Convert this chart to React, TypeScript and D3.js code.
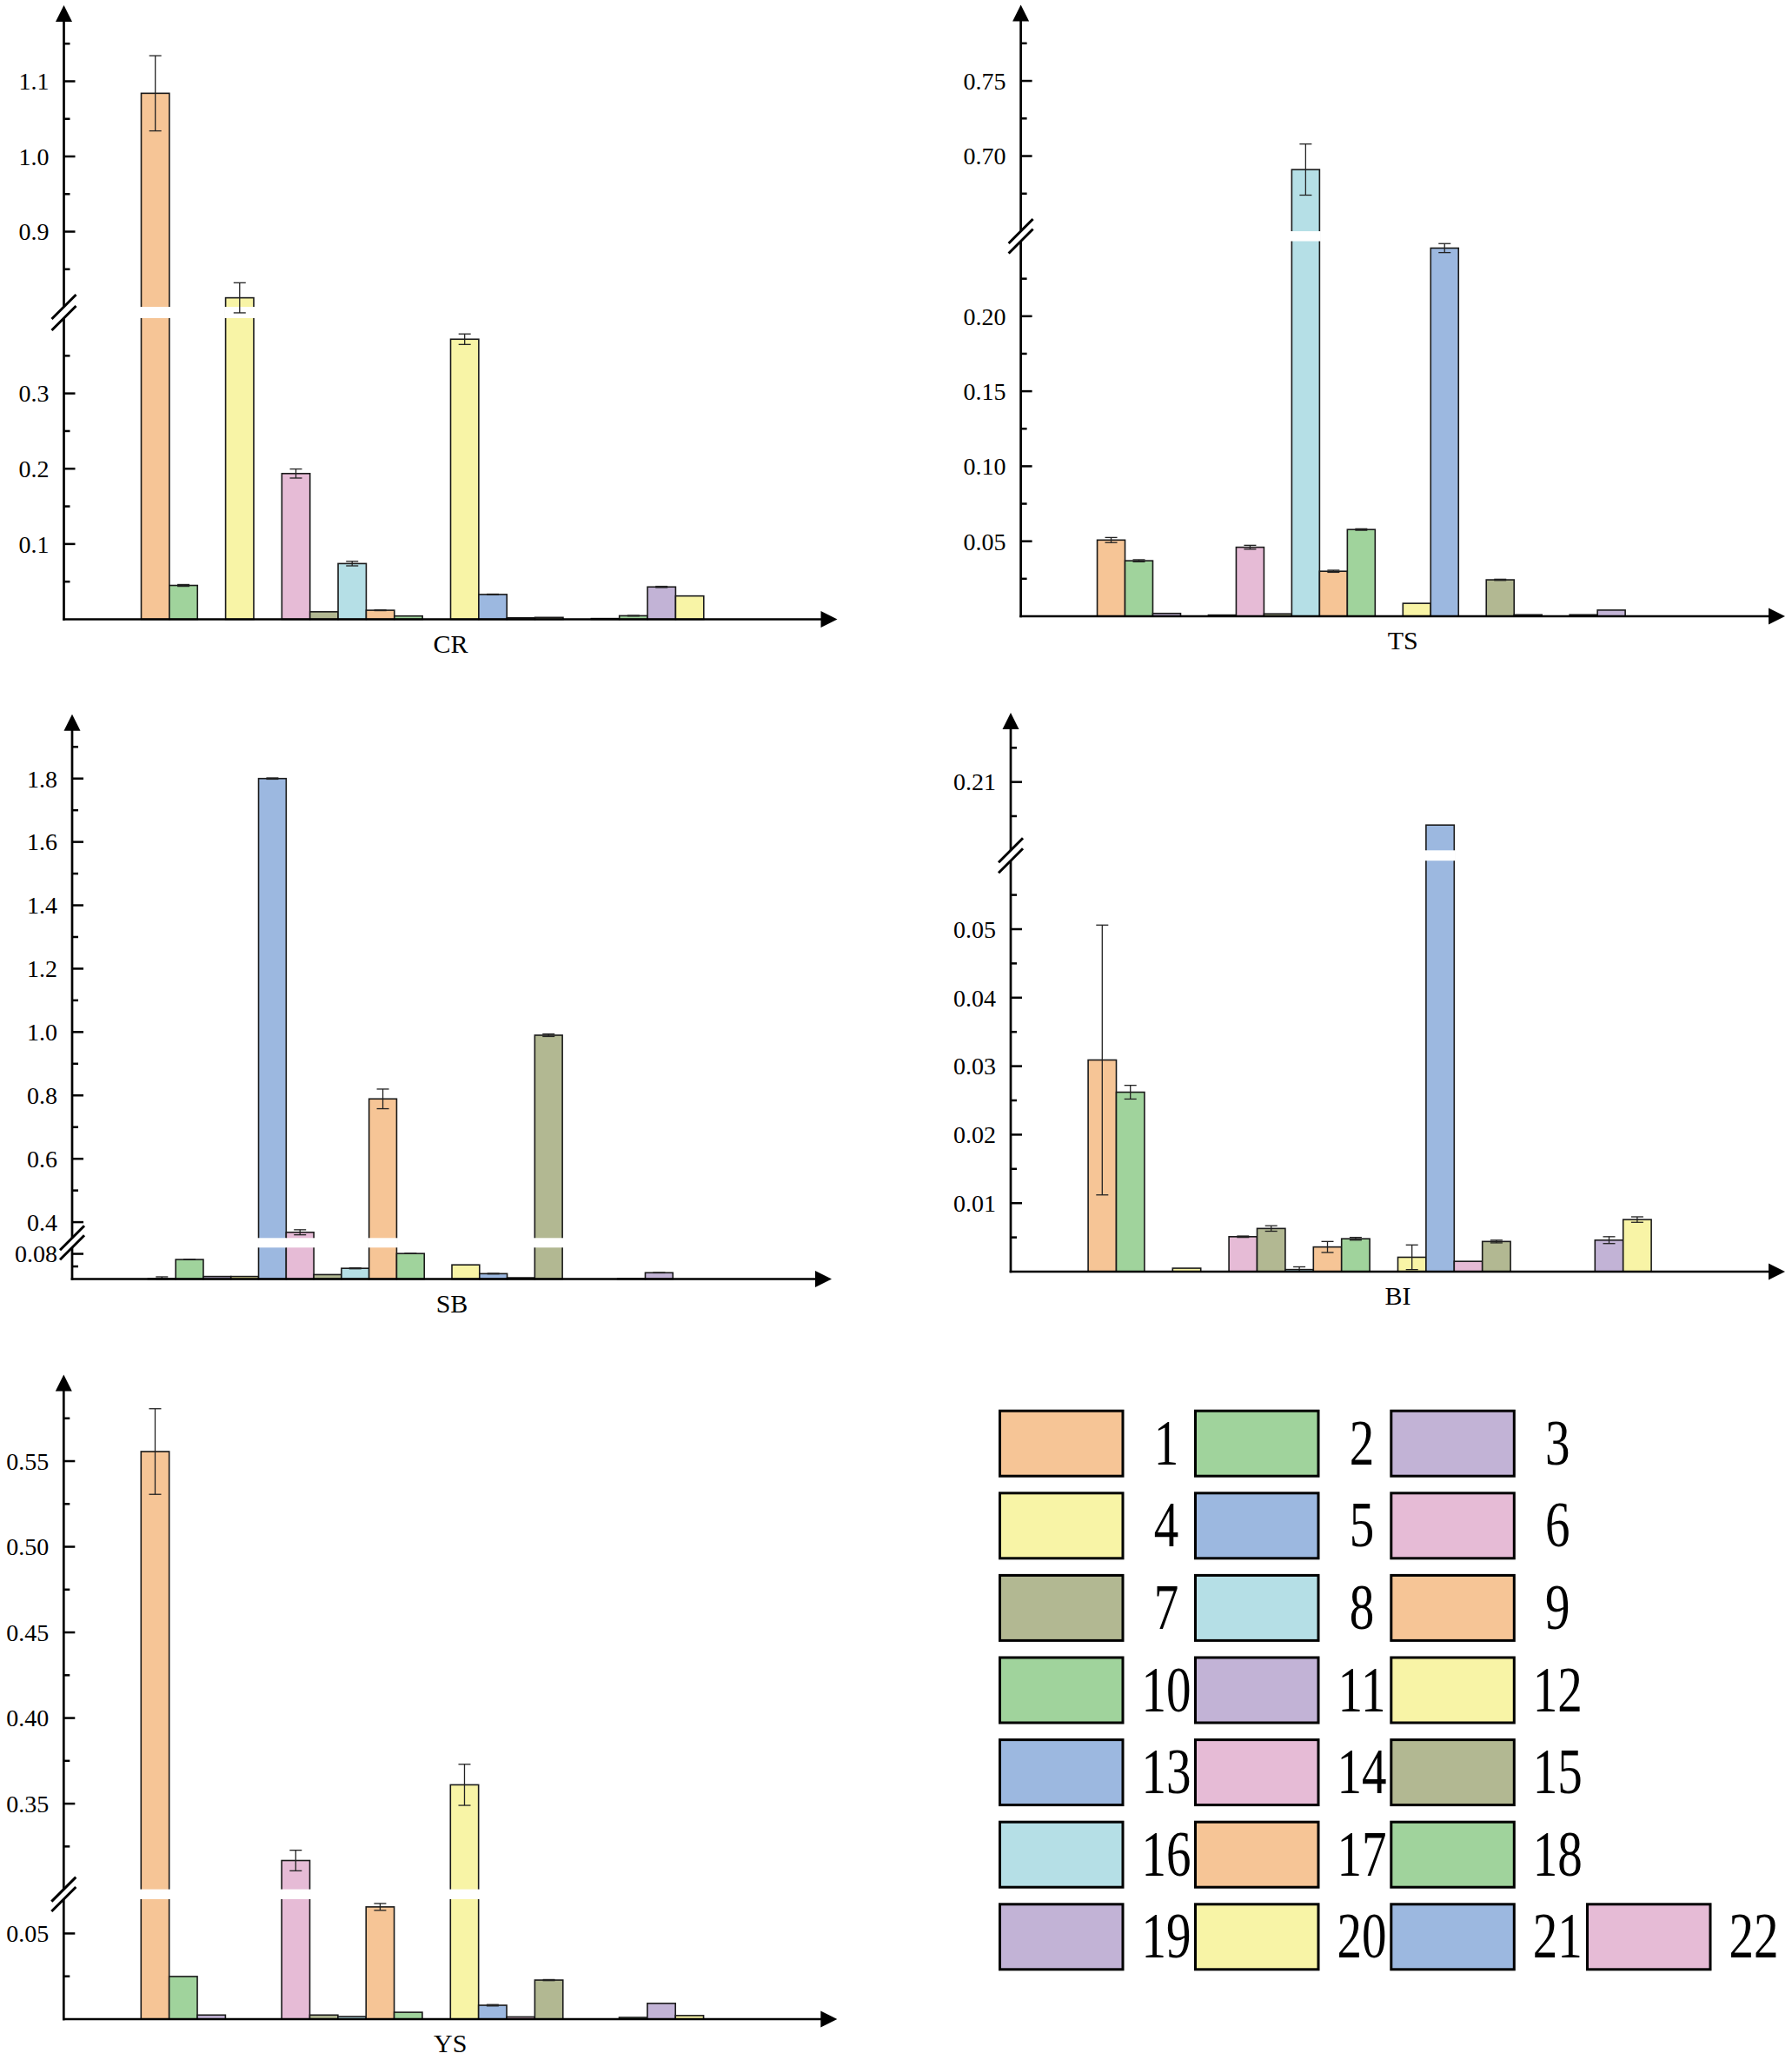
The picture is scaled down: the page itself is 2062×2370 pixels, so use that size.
import React from 'react';
import * as d3 from 'd3';

// categories 1..22 share one legend; colours cycle every 8 bars
const categories = ['1', '2', '3', '4', '5', '6', '7', '8', '9', '10', '11', '12', '13', '14', '15', '16', '17', '18', '19', '20', '21', '22'];
const palette = ['#F6C596', '#A0D39C', '#C2B3D6', '#F8F4A6', '#9CB8E0', '#E6BBD6', '#B2B892', '#B5DFE6'];

const crValues = [1.084, 0.045, 0, 0.812, 0, 0.1936, 0.010, 0.074, 0.012, 0.0044, 0, 0.372, 0.033, 0.002, 0.0025, 0, 0.001, 0.0047, 0.043, 0.031, 0, 0];
const crErrors = [0.05, 0.0012, 0, 0.02, 0, 0.006, 0, 0.003, 0.0005, 0, 0, 0.007, 0.0005, 0, 0, 0, 0, 0.0004, 0.0008, 0, 0, 0];

const tsValues = [0.0508, 0.037, 0.0019, 0, 0.0008, 0.046, 0.0016, 0.691, 0.030, 0.0578, 0, 0.0086, 0.2454, 0, 0.0243, 0.001, 0, 0.001, 0.0041, 0, 0, 0];
const tsErrors = [0.0017, 0.0007, 0, 0, 0, 0.0013, 0, 0.017, 0.0007, 0.0005, 0, 0, 0.003, 0, 0.0004, 0, 0, 0, 0, 0, 0, 0];

const sbValues = [0.001, 0.062, 0.008, 0.008, 1.80, 0.368, 0.014, 0.034, 0.789, 0.081, 0, 0.045, 0.017, 0.004, 0.990, 0, 0, 0.001, 0.020, 0, 0, 0];
const sbErrors = [0.006, 0.0008, 0, 0, 0.002, 0.008, 0, 0.0015, 0.031, 0.0005, 0, 0, 0.001, 0, 0.004, 0, 0, 0, 0.0005, 0, 0, 0];

const biValues = [0.0309, 0.0262, 0, 0.0005, 0, 0.0051, 0.0063, 0.0003, 0.0036, 0.0048, 0, 0.0021, 0.2037, 0.0015, 0.0044, 0, 0, 0, 0.0046, 0.0076, 0, 0];
const biErrors = [0.0197, 0.001, 0, 0, 0, 0.0001, 0.0004, 0.0004, 0.0008, 0.0002, 0, 0.0018, 0, 0, 0.0002, 0, 0, 0, 0.0005, 0.0004, 0, 0];

const ysValues = [0.5556, 0.0249, 0.0024, 0, 0, 0.3168, 0.0024, 0.0015, 0.0655, 0.004, 0, 0.361, 0.0081, 0.0013, 0.0228, 0, 0, 0.001, 0.0092, 0.0021, 0, 0];
const ysErrors = [0.025, 0, 0, 0, 0, 0.006, 0, 0, 0.002, 0, 0, 0.012, 0.0004, 0, 0.0003, 0, 0, 0, 0, 0, 0, 0];

// broken y axes: lower and upper segments
const crLowerTicks = [0.1, 0.2, 0.3];
const crLowerMinor = [0.05, 0.15, 0.25, 0.35];
const crUpperTicks = [0.9, 1.0, 1.1];
const crUpperMinor = [0.85, 0.95, 1.05, 1.15];

const tsLowerTicks = [0.05, 0.1, 0.15, 0.2];
const tsLowerMinor = [0.025, 0.075, 0.125, 0.175, 0.225];
const tsUpperTicks = [0.7, 0.75];
const tsUpperMinor = [0.675, 0.725, 0.775];

const sbLowerTicks = [0.08];
const sbLowerMinor = [0.04];
const sbUpperTicks = [0.4, 0.6, 0.8, 1.0, 1.2, 1.4, 1.6, 1.8];
const sbUpperMinor = [0.5, 0.7, 0.9, 1.1, 1.3, 1.5, 1.7, 1.9];

const biLowerTicks = [0.01, 0.02, 0.03, 0.04, 0.05];
const biLowerMinor = [0.005, 0.015, 0.025, 0.035, 0.045, 0.055];
const biUpperTicks = [0.21];
const biUpperMinor = [0.205, 0.215];

const ysLowerTicks = [0.05];
const ysLowerMinor = [0.025];
const ysUpperTicks = [0.35, 0.4, 0.45, 0.5, 0.55];
const ysUpperMinor = [0.325, 0.375, 0.425, 0.475, 0.525, 0.575];

const FONT = '"Liberation Serif", "Times New Roman", serif';

interface PanelProps {
  title: string;
  values: number[];
  errors: number[];
  axisX: number;
  axisY: number;
  len: number;
  lowerDomain: [number, number];
  lowerTop: number;
  upperDomain: [number, number];
  upperBottom: number;
  upperTop: number;
  lowerTicks: number[];
  lowerMinor: number[];
  upperTicks: number[];
  upperMinor: number[];
  lowerFmt: string;
  upperFmt: string;
}

const Panel: React.FC<PanelProps> = (p) => {
  const yLower = d3.scaleLinear().domain(p.lowerDomain).range([p.axisY, p.lowerTop]);
  const yUpper = d3.scaleLinear().domain(p.upperDomain).range([p.upperBottom, p.upperTop]);
  const y = (v: number) => (v <= p.lowerDomain[1] ? yLower(v) : yUpper(v));

  const x = d3.scaleBand<string>()
    .domain(categories)
    .range([p.axisX + p.len * 0.1, p.axisX + p.len * 0.9])
    .padding(0);
  const bw = x.bandwidth();

  const arrowLen = 19;
  const arrowHalf = 9.5;
  const topTip = p.upperTop - 1;
  const rightTip = p.axisX + p.len;
  const cap = 7;

  const tickLines = (vals: number[], scale: (v: number) => number, size: number) =>
    vals.map((v, i) => (
      <line key={`${size}-${i}`} x1={p.axisX} x2={p.axisX + size} y1={scale(v)} y2={scale(v)} stroke="#000" strokeWidth={2.5} />
    ));

  const tickLabels = (vals: number[], scale: (v: number) => number, fmt: string) =>
    vals.map((v, i) => (
      <text key={`l-${fmt}-${i}`} x={p.axisX - 17} y={scale(v)} dy="0.35em" textAnchor="end" fontSize={28} fontFamily={FONT} fill="#000">
        {d3.format(fmt)(v)}
      </text>
    ));

  const slash = (yy: number, k: string) => (
    <line key={k} x1={p.axisX - 14} y1={yy + 14} x2={p.axisX + 14} y2={yy - 14} stroke="#000" strokeWidth={3} />
  );

  return (
    <g>
      {/* bars */}
      {p.values.map((v, i) => {
        if (v <= 0) return null;
        const x0 = x(categories[i]) as number;
        const top = y(v);
        return (
          <g key={`b-${i}`}>
            <rect x={x0} y={top} width={bw} height={p.axisY - top} fill={palette[i % 8]} stroke="#1a1a1a" strokeWidth={1.6} />
            {v > p.lowerDomain[1] && (
              <rect x={x0 - 1.5} y={p.upperBottom} width={bw + 3} height={p.lowerTop - p.upperBottom} fill="#fff" />
            )}
          </g>
        );
      })}
      {/* error bars */}
      {p.values.map((v, i) => {
        const e = p.errors[i];
        if (v <= 0 || !e) return null;
        const cx = (x(categories[i]) as number) + bw / 2;
        const yt = y(v + e);
        const yb = y(Math.max(0, v - e));
        return (
          <g key={`e-${i}`} stroke="#222" strokeWidth={1.3}>
            <line x1={cx} x2={cx} y1={yt} y2={yb} />
            <line x1={cx - cap} x2={cx + cap} y1={yt} y2={yt} />
            <line x1={cx - cap} x2={cx + cap} y1={yb} y2={yb} />
          </g>
        );
      })}
      {/* y axis, broken */}
      <line x1={p.axisX} x2={p.axisX} y1={p.axisY + 1.3} y2={p.lowerTop} stroke="#000" strokeWidth={2.7} />
      <line x1={p.axisX} x2={p.axisX} y1={p.upperBottom} y2={topTip + arrowLen - 1} stroke="#000" strokeWidth={2.7} />
      <path d={`M${p.axisX},${topTip} L${p.axisX - arrowHalf},${topTip + arrowLen} L${p.axisX + arrowHalf},${topTip + arrowLen} Z`} fill="#000" />
      {slash(p.upperBottom, 's1')}
      {slash(p.lowerTop, 's2')}
      {tickLines(p.lowerTicks, yLower, 13)}
      {tickLines(p.lowerMinor, yLower, 7)}
      {tickLines(p.upperTicks, yUpper, 13)}
      {tickLines(p.upperMinor, yUpper, 7)}
      {tickLabels(p.lowerTicks, yLower, p.lowerFmt)}
      {tickLabels(p.upperTicks, yUpper, p.upperFmt)}
      {/* x axis */}
      <line x1={p.axisX - 1.3} x2={rightTip - arrowLen + 1} y1={p.axisY} y2={p.axisY} stroke="#000" strokeWidth={2.7} />
      <path d={`M${rightTip},${p.axisY} L${rightTip - arrowLen},${p.axisY - arrowHalf} L${rightTip - arrowLen},${p.axisY + arrowHalf} Z`} fill="#000" />
      <text x={p.axisX + p.len / 2} y={p.axisY + 38} textAnchor="middle" fontSize={30} fontFamily={FONT} fill="#000">
        {p.title}
      </text>
    </g>
  );
};

const Legend: React.FC = () => {
  const colX = [1150.5, 1375.5, 1600.8, 1826.5];
  const rowY0 = 1623.2;
  const rowStep = 94.6;
  const boxW = 141.5;
  const boxH = 75;
  const fs = 74;
  return (
    <g>
      {categories.map((c, i) => {
        const row = Math.min(Math.floor(i / 3), 6);
        const col = i - row * 3;
        const bx = colX[col];
        const by = rowY0 + row * rowStep;
        return (
          <g key={`lg-${c}`}>
            <rect x={bx} y={by} width={boxW} height={boxH} fill={palette[i % 8]} stroke="#000" strokeWidth={3} />
            {/* the legend digits are narrower than plain Times */}
            <text
              transform={`translate(${bx + boxW + 50},${by + boxH / 2 + 24}) scale(0.77,1)`}
              x={0}
              y={0}
              textAnchor="middle"
              fontSize={fs}
              fontFamily={FONT}
              fill="#000"
            >
              {c}
            </text>
          </g>
        );
      })}
    </g>
  );
};

const App: React.FC = () => {
  return (
    <svg
      width={2062}
      height={2370}
      viewBox="0 0 2062 2370"
      style={{ position: 'absolute', left: 0, top: 0, background: '#fff' }}
    >
      <rect x={0} y={0} width={2062} height={2370} fill="#fff" />
      <Panel
        title="CR" values={crValues} errors={crErrors}
        axisX={73.5} axisY={712.5} len={890}
        lowerDomain={[0, 0.4]} lowerTop={366}
        upperDomain={[0.8, 1.2]} upperBottom={353} upperTop={7}
        lowerTicks={crLowerTicks} lowerMinor={crLowerMinor}
        upperTicks={crUpperTicks} upperMinor={crUpperMinor}
        lowerFmt=".1f" upperFmt=".1f"
      />
      <Panel
        title="TS" values={tsValues} errors={tsErrors}
        axisX={1174.6} axisY={709} len={879.4}
        lowerDomain={[0, 0.25]} lowerTop={277.5}
        upperDomain={[0.65, 0.8]} upperBottom={266} upperTop={6.6}
        lowerTicks={tsLowerTicks} lowerMinor={tsLowerMinor}
        upperTicks={tsUpperTicks} upperMinor={tsUpperMinor}
        lowerFmt=".2f" upperFmt=".2f"
      />
      <Panel
        title="SB" values={sbValues} errors={sbErrors}
        axisX={83} axisY={1471.5} len={874}
        lowerDomain={[0, 0.1]} lowerTop={1435.3}
        upperDomain={[0.35, 2.0]} upperBottom={1424.3} upperTop={822.8}
        lowerTicks={sbLowerTicks} lowerMinor={sbLowerMinor}
        upperTicks={sbUpperTicks} upperMinor={sbUpperMinor}
        lowerFmt=".2f" upperFmt=".1f"
      />
      <Panel
        title="BI" values={biValues} errors={biErrors}
        axisX={1163} axisY={1463} len={891}
        lowerDomain={[0, 0.06]} lowerTop={990.2}
        upperDomain={[0.2, 0.22]} upperBottom={978.3} upperTop={821}
        lowerTicks={biLowerTicks} lowerMinor={biLowerMinor}
        upperTicks={biUpperTicks} upperMinor={biUpperMinor}
        lowerFmt=".2f" upperFmt=".2f"
      />
      <Panel
        title="YS" values={ysValues} errors={ysErrors}
        axisX={73.3} axisY={2323} len={890}
        lowerDomain={[0, 0.07]} lowerTop={2185}
        upperDomain={[0.3, 0.6]} upperBottom={2173.6} upperTop={1582.5}
        lowerTicks={ysLowerTicks} lowerMinor={ysLowerMinor}
        upperTicks={ysUpperTicks} upperMinor={ysUpperMinor}
        lowerFmt=".2f" upperFmt=".2f"
      />
      <Legend />
    </svg>
  );
};

export default App;
